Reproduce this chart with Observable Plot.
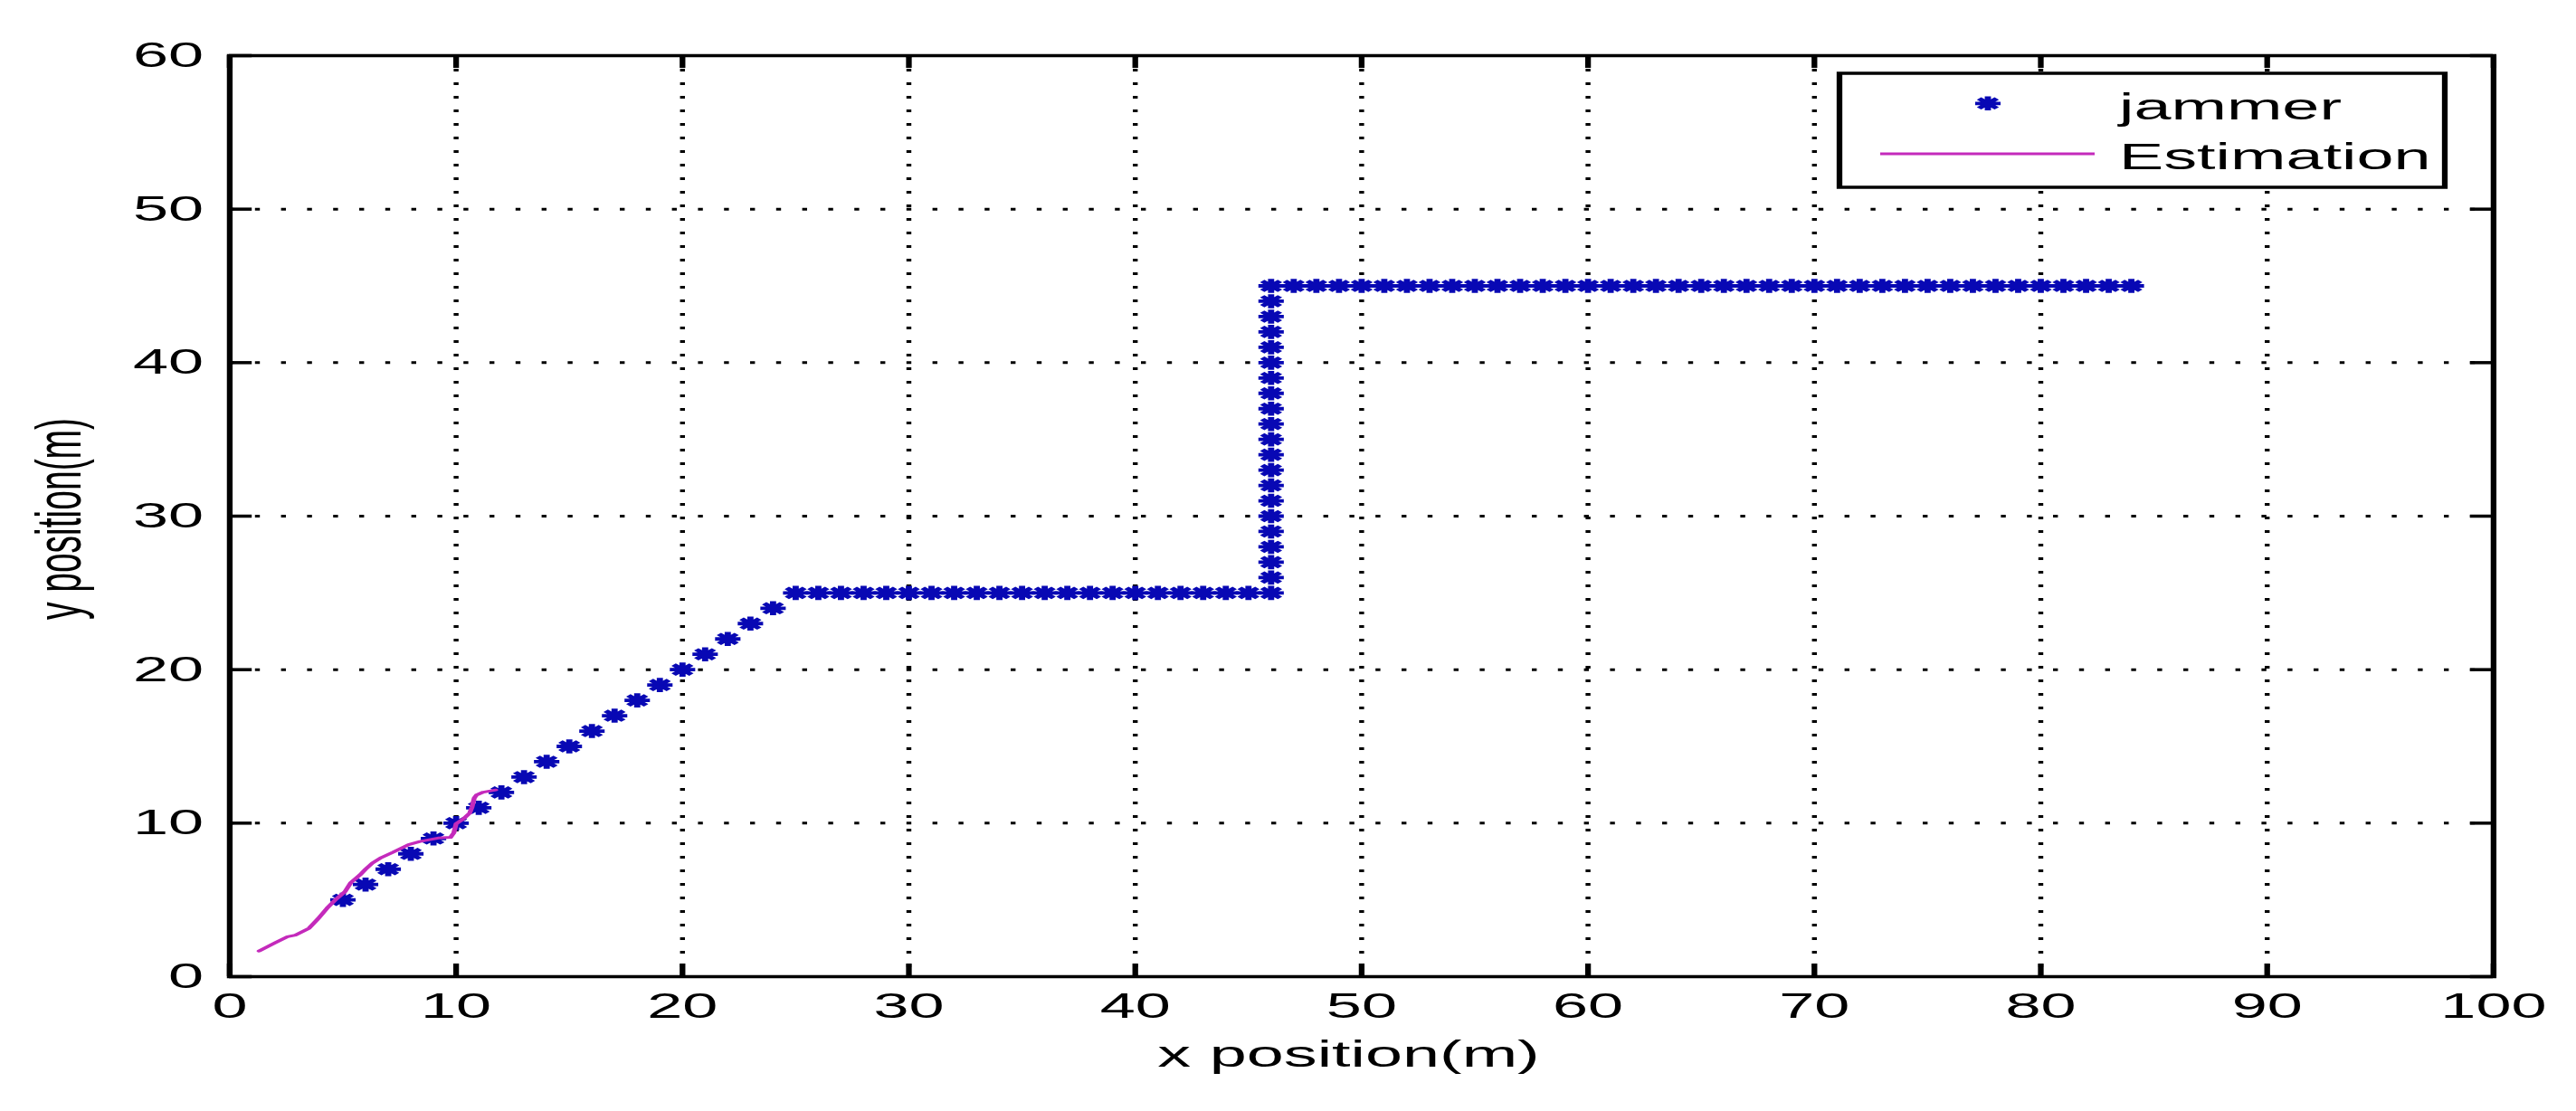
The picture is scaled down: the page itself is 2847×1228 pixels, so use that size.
<!DOCTYPE html>
<html><head><meta charset="utf-8">
<script src="https://cdn.jsdelivr.net/npm/d3@7"></script>
<script src="https://cdn.jsdelivr.net/npm/@observablehq/plot@0.6"></script>
<style>html,body{margin:0;padding:0;background:#fff;overflow:hidden}</style>
</head><body><div id="chart"></div>
<script>
// ---- data ----
const xTicks = [0,10,20,30,40,50,60,70,80,90,100];
const yTicks = [0,10,20,30,40,50,60];

const jammerX = [5,6,7,8,9,10,11,12,13,14,15,16,17,18,19,20,21,22,23,24,
  25,26,27,28,29,30,31,32,33,34,35,36,37,38,39,40,41,42,43,44,45,46,
  46,46,46,46,46,46,46,46,46,46,46,46,46,46,46,46,46,46,46,46,
  47,48,49,50,51,52,53,54,55,56,57,58,59,60,61,62,63,64,65,66,67,68,69,70,71,72,73,74,75,76,77,78,79,80,81,82,83,84];
const jammerY = [5,6,7,8,9,10,11,12,13,14,15,16,17,18,19,20,21,22,23,24,
  25,25,25,25,25,25,25,25,25,25,25,25,25,25,25,25,25,25,25,25,25,25,
  26,27,28,29,30,31,32,33,34,35,36,37,38,39,40,41,42,43,44,45,
  45,45,45,45,45,45,45,45,45,45,45,45,45,45,45,45,45,45,45,45,45,45,45,45,45,45,45,45,45,45,45,45,45,45,45,45,45,45];

const estX = [1.3,2.0,2.55,2.9,3.5,3.9,4.3,4.7,5.1,5.35,5.75,6.0,6.3,6.7,7.2,7.9,8.4,9.2,9.75,9.9,10.0,10.3,10.6,10.7,10.8,10.9,11.2,11.75];
const estY = [1.67,2.2,2.6,2.7,3.15,3.77,4.46,5.05,5.55,6.13,6.62,7.0,7.4,7.76,8.1,8.6,8.8,9.03,9.07,9.37,9.96,10.25,10.65,11.04,11.63,11.83,12.02,12.16];

const seriesNames = ["jammer", "Estimation"];
const xLabel = "x position(m)";
const yLabel = "y position(m)";

// ---- tables ----
const jammer = jammerX.map((x, i) => ({x, y: jammerY[i]}));
const est = estX.map((x, i) => ({x, y: estY[i]}));

// ---- layout (chart drawn at logical width, then stretched horizontally like the reference) ----
const FULLW = 2847, H = 1228, K = 1.8;
const W = FULLW / K;
const mL = 253 / K, mR = W - 2755 / K, mT = 61, mB = H - 1079;
const frameW = W - mL - mR, frameH = H - mT - mB;
const tickLen = 14;
const blue = "#0808b4";
const magenta = "#c42abb";
const font = "'Liberation Sans', Arial, Helvetica, sans-serif";

// MATLAB-like '*' marker: + and x arms
const star = {
  draw(ctx, size) {
    const r = Math.sqrt(size / Math.PI);
    const d = r * 0.7;
    ctx.moveTo(-r, 0); ctx.lineTo(r, 0);
    ctx.moveTo(0, -r); ctx.lineTo(0, r);
    ctx.moveTo(-d, -d); ctx.lineTo(d, d);
    ctx.moveTo(-d, d); ctx.lineTo(d, -d);
  }
};

const chart = Plot.plot({
  width: W, height: H,
  marginLeft: mL, marginRight: mR, marginTop: mT, marginBottom: mB,
  style: {fontFamily: font, fontSize: "39px", color: "black", background: "white"},
  x: {domain: [0, 100], axis: null},
  y: {domain: [0, 60], axis: null},
  marks: [
    Plot.gridX(xTicks, {stroke: "black", strokeOpacity: 1, strokeWidth: 3, strokeDasharray: "3,12"}),
    Plot.gridY(yTicks, {stroke: "black", strokeOpacity: 1, strokeWidth: 3, strokeDasharray: "3,13"}),
    // inward ticks on all four sides
    Plot.ruleX(xTicks, {stroke: "black", strokeWidth: 3.5, insetTop: frameH - tickLen}),
    Plot.ruleX(xTicks, {stroke: "black", strokeWidth: 3.5, insetBottom: frameH - tickLen}),
    Plot.ruleY(yTicks, {stroke: "black", strokeWidth: 3.5, insetRight: frameW - tickLen}),
    Plot.ruleY(yTicks, {stroke: "black", strokeWidth: 3.5, insetLeft: frameW - tickLen}),
    Plot.frame({stroke: "black", strokeWidth: 3.5}),
    Plot.axisX(xTicks, {anchor: "bottom", tickSize: 0, tickPadding: 18, label: null, fontSize: 39}),
    Plot.axisY(yTicks, {anchor: "left", tickSize: 0, tickPadding: 16, label: null, fontSize: 39}),
    Plot.dot(jammer, {x: "x", y: "y", symbol: star, r: 7.8, fill: "none", stroke: blue, strokeWidth: 3.8}),
    Plot.line(est, {x: "x", y: "y", stroke: magenta, strokeWidth: 3}),
    Plot.text([xLabel], {text: d => d, frameAnchor: "bottom", textAnchor: "middle", lineAnchor: "top", dy: 70, dx: -8, fontSize: 41, fill: "black"}),
    Plot.text([yLabel], {text: d => d, frameAnchor: "left", textAnchor: "middle", rotate: -90, lineAnchor: "top", dx: 21.2 - mL, dy: 3, fontSize: 39, fill: "black"})
  ]
});

// ---- legend ----
const svg = d3.select(chart);
const lg = svg.append("g").attr("aria-label", "legend").attr("font-family", font)
  .attr("font-size", 41).attr("text-anchor", "start");
const bx0 = 2033 / K, bx1 = 2702 / K;
lg.append("rect").attr("x", bx0).attr("y", 81).attr("width", bx1 - bx0).attr("height", 126)
  .attr("fill", "white").attr("stroke", "black").attr("stroke-width", 3.5);
lg.append("path").attr("transform", `translate(${2197 / K},114.3)`)
  .attr("d", d3.symbol(star, Math.PI * 7.8 * 7.8)())
  .attr("fill", "none").attr("stroke", blue).attr("stroke-width", 3.8);
lg.append("line").attr("x1", 2078 / K).attr("x2", 2315 / K).attr("y1", 170).attr("y2", 170)
  .attr("stroke", magenta).attr("stroke-width", 3);
lg.append("text").attr("x", 2342 / K).attr("y", 132).attr("fill", "black").attr("text-anchor", "start").text(seriesNames[0]);
lg.append("text").attr("x", 2342 / K).attr("y", 187).attr("fill", "black").attr("text-anchor", "start").text(seriesNames[1]);

// ---- stretch horizontally to the full window ----
chart.setAttribute("viewBox", `0 0 ${W} ${H}`);
chart.setAttribute("preserveAspectRatio", "none");
chart.setAttribute("width", FULLW);
chart.setAttribute("height", H);
chart.style.width = FULLW + "px";
chart.style.height = H + "px";
chart.style.maxWidth = "none";
chart.style.display = "block";
document.getElementById("chart").appendChild(chart);
</script></body></html>
